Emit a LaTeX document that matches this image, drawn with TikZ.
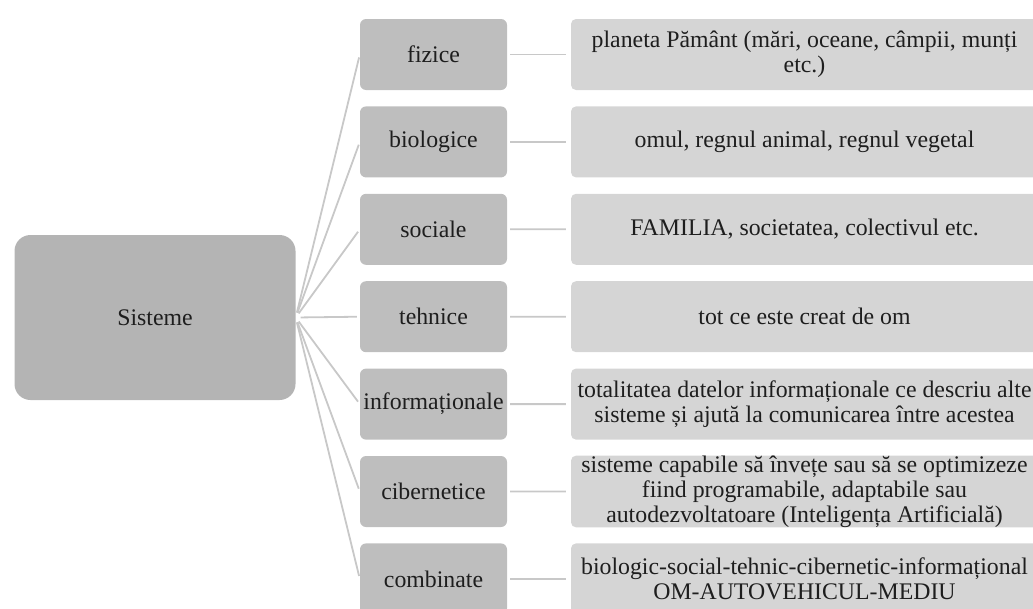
\documentclass[tikz,border=0pt]{standalone}
\usepackage{fontspec}
\setmainfont{Liberation Serif}
\definecolor{rootfill}{HTML}{B4B4B4}
\definecolor{midfill}{HTML}{BEBEBE}
\definecolor{descfill}{HTML}{D5D5D5}
\definecolor{linkcol}{HTML}{C8C8C8}
\definecolor{txtcol}{HTML}{1E1E1E}
\begin{document}
\begin{tikzpicture}[x=1pt,y=-1pt,
  every node/.style={font=\fontsize{23.8}{25}\selectfont, text=txtcol, inner sep=0pt, align=center},
  rootbox/.style={fill=rootfill, rounded corners=16pt, minimum width=281pt, minimum height=165pt},
  midbox/.style={fill=midfill, rounded corners=6pt, minimum width=147pt, minimum height=71pt},
  descbox/.style={fill=descfill, rounded corners=5pt, minimum width=467pt, minimum height=71pt},
  fanlink/.style={draw=linkcol, line width=1.8pt, shorten <=5pt, shorten >=3pt},
  sidelink/.style={draw=linkcol, line width=1.8pt, shorten <=3pt, shorten >=5pt}]
\useasboundingbox (0,0) rectangle (1033,608);
\clip (0,0) rectangle (1033,608);
\node[rootbox] (root) at (155,317.5) {Sisteme};
\foreach \i/\lab in {1/fizice,2/biologice,3/sociale,4/tehnice,5/informaționale,6/cibernetice,7/combinate}{
  \node[midbox] (m\i) at (433.5,{54.5+87.4*(\i-1)}) {\lab};
}
\node[descbox] (d1) at (804.5,54.5) {planeta Pământ (mări, oceane, câmpii, munți\\etc.)};
\node[descbox] (d2) at (804.5,141.9) {omul, regnul animal, regnul vegetal};
\node[descbox] (d3) at (804.5,229.3) {FAMILIA, societatea, colectivul etc.};
\node[descbox] (d4) at (804.5,316.7) {tot ce este creat de om};
\node[descbox] (d5) at (804.5,404.1) {totalitatea datelor informaționale ce descriu alte\\sisteme și ajută la comunicarea între acestea};
\node[descbox] (d6) at (804.5,491.5) {sisteme capabile să învețe sau să se optimizeze\\fiind programabile, adaptabile sau\\autodezvoltatoare (Inteligența Artificială)};
\node[descbox] (d7) at (804.5,578.9) {biologic-social-tehnic-cibernetic-informațional\\OM-AUTOVEHICUL-MEDIU};
\foreach \i in {1,...,7}{
  \draw[fanlink] (root.east) -- (m\i.west);
  \draw[sidelink] (m\i.east) -- (d\i.west);
}
\end{tikzpicture}
\end{document}
